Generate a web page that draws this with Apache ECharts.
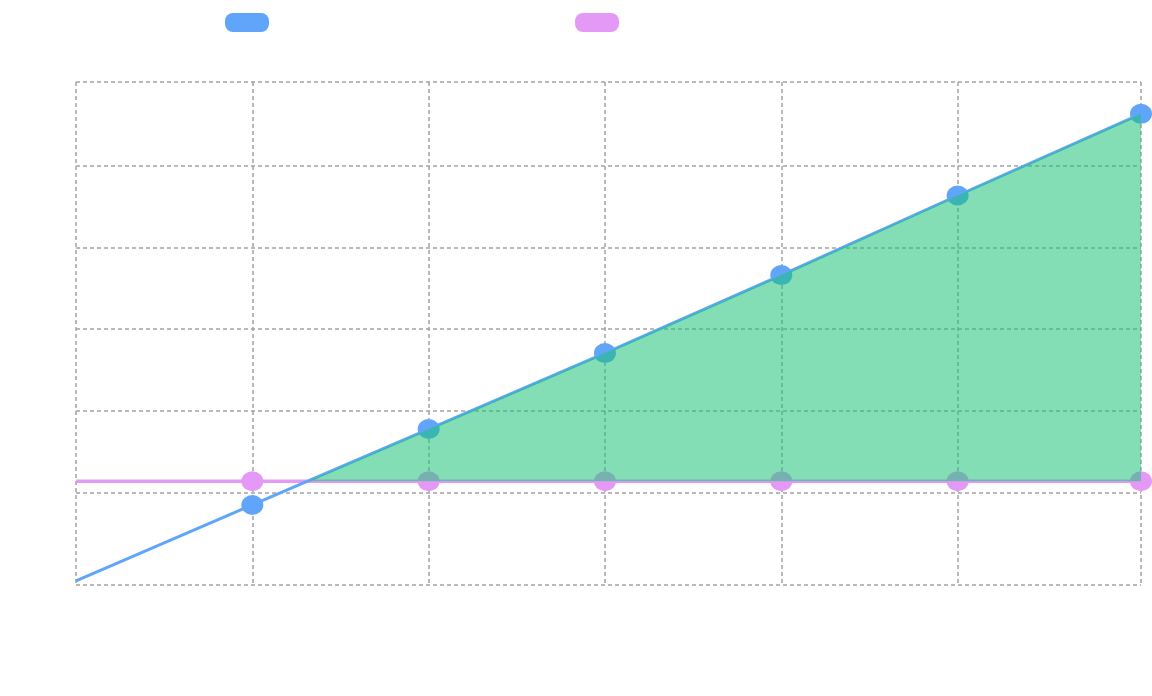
<!DOCTYPE html>
<html>
<head>
<meta charset="utf-8">
<script src="https://cdn.jsdelivr.net/npm/echarts@6/dist/echarts.min.js"></script>
<style>
html,body{margin:0;padding:0;background:#ffffff;}
#chart{width:1152px;height:696px;}
</style>
</head>
<body>
<div id="chart"></div>
<script>
// ---- data ----
const seriesNames = ['Cumulative revenue (thousands of USD)', 'Fixed costs'];
const xValues   = [0, 1, 2, 3, 4, 5, 6.04];
const revenue   = [-21.7, -3.1, 15.5, 34.1, 53.2, 72.7, 92.7];
const fixedCost = [2.7, 2.7, 2.7, 2.7, 2.7, 2.7, 2.7];
const xTicks = [0, 1, 2, 3, 4, 5, 6.04];
const yTicks = [-22.7, 0, 20, 40, 60, 80, 100.5];

const BLUE = '#60a5fa';
const PINK = '#e599f7';
const FILL = 'rgba(30,195,120,0.55)';
const GRID = '#a3a3a3';

// region where revenue exceeds fixed costs (starts at the crossing point)
const fillData = [];
for (let i = 0; i < xValues.length; i++) {
  const d = revenue[i] - fixedCost[i];
  if (i > 0) {
    const dp = revenue[i - 1] - fixedCost[i - 1];
    if ((dp < 0 && d > 0) || (dp > 0 && d < 0)) {
      const t = dp / (dp - d);
      const xc = xValues[i - 1] + t * (xValues[i] - xValues[i - 1]);
      const yc = fixedCost[i - 1] + t * (fixedCost[i] - fixedCost[i - 1]);
      fillData.push([xc, yc]);
    }
  }
  if (d >= 0) fillData.push([xValues[i], revenue[i]]);
}

function pts(ys) {
  return xValues.map((x, i) => i === 0 ? { value: [x, ys[i]], symbol: 'none' } : [x, ys[i]]);
}

const pill = 'path://M8,0 H36 A8,8 0 0 1 44,8 V11 A8,8 0 0 1 36,19 H8 A8,8 0 0 1 0,11 V8 A8,8 0 0 1 8,0 Z';
const legendBase = {
  top: 13, itemWidth: 44, itemHeight: 19, icon: pill, itemGap: 10, padding: 0,
  selectedMode: false,
  textStyle: { color: '#ffffff', fontSize: 16, fontFamily: 'Inter, sans-serif' },
  itemStyle: { borderWidth: 0 }
};

const splitStyle = { show: true, lineStyle: { color: GRID, width: 1.5, type: [4, 3] } };

const chart = echarts.init(document.getElementById('chart'), null, { renderer: 'canvas' });
chart.setOption({
  animation: false,
  backgroundColor: '#ffffff',
  legend: [
    Object.assign({}, legendBase, { left: 225, data: [seriesNames[0]] }),
    Object.assign({}, legendBase, { left: 575, data: [seriesNames[1]] })
  ],
  grid: { left: 76, right: 11, top: 82, bottom: 111, containLabel: false, outerBoundsMode: 'none' },
  xAxis: {
    type: 'value', min: xTicks[0], max: xTicks[xTicks.length - 1],
    axisLine: { show: false },
    axisTick: { show: false, customValues: xTicks },
    axisLabel: { color: '#ffffff', fontSize: 14, customValues: xTicks },
    splitLine: splitStyle
  },
  yAxis: {
    type: 'value', min: yTicks[0], max: yTicks[yTicks.length - 1],
    axisLine: { show: false },
    axisTick: { show: false, customValues: yTicks },
    axisLabel: { color: '#ffffff', fontSize: 14, customValues: yTicks },
    splitLine: splitStyle
  },
  series: [
    {
      name: seriesNames[1], type: 'line', data: pts(fixedCost), clip: false,
      symbol: 'circle', symbolSize: [22, 20],
      lineStyle: { color: PINK, width: 3.5 }, itemStyle: { color: PINK }, z: 2
    },
    {
      name: seriesNames[0], type: 'line', data: pts(revenue), clip: false,
      symbol: 'circle', symbolSize: [22, 20],
      lineStyle: { color: BLUE, width: 3 }, itemStyle: { color: BLUE }, z: 3
    },
    {
      name: 'fill', type: 'line', data: fillData, clip: false, silent: true,
      symbol: 'none', lineStyle: { width: 0 },
      areaStyle: { color: FILL, opacity: 1, origin: fixedCost[0] }, z: 4
    }
  ]
});
</script>
</body>
</html>
